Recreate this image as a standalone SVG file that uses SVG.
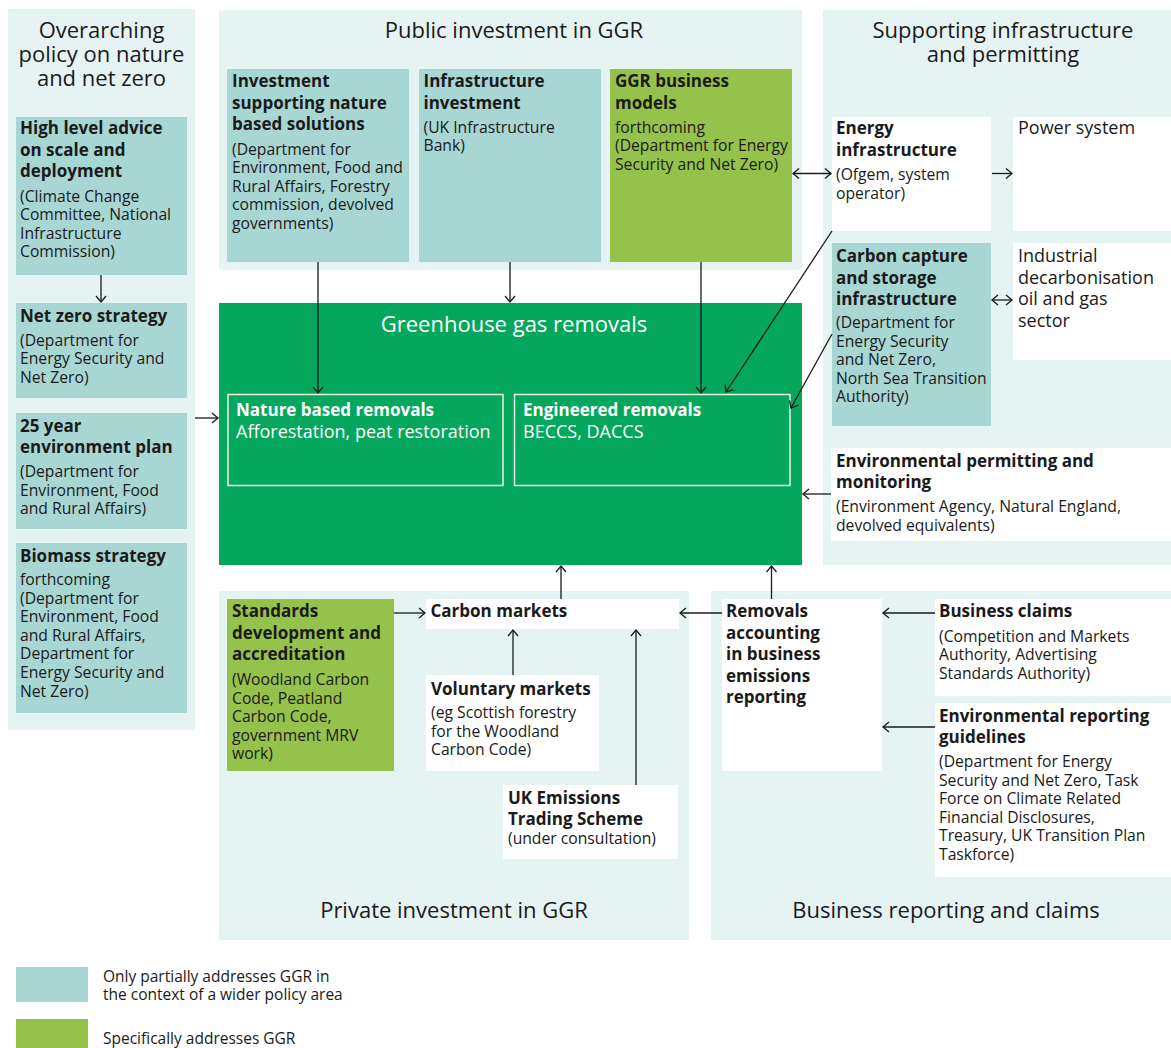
<svg xmlns="http://www.w3.org/2000/svg" width="1171" height="1048" viewBox="0 0 1171 1048">
  <defs>
    <style>
      .panel { fill: #e6f3f3; }
      .teal { fill: #a8d6d3; }
      .lime { fill: #95c24b; }
      .white { fill: #ffffff; }
      .ggr { fill: #04a75c; }
      .inner { fill: none; stroke: #e4f5ea; stroke-width: 1.5; }
      text { font-family: "Open Sans", "Noto Sans", sans-serif; fill: #1a1a1a; }
      .title { font-size: 22px; text-anchor: middle; }
      .h { font-size: 17px; font-weight: 700; }
      .b { font-size: 15.7px; }
      .lg { font-size: 18px; }
      .lgd { font-size: 15.5px; }
      .w { fill: #ffffff; }
      .conn line { stroke: #1a1a1a; stroke-width: 1.3; fill: none; }
    </style>
    <marker id="arr" viewBox="-8 -6 10 12" markerWidth="10" markerHeight="12" refX="0" refY="0" orient="auto-start-reverse" markerUnits="userSpaceOnUse">
      <path d="M-6,-5 L0,0 L-6,5" fill="none" stroke="#1a1a1a" stroke-width="1.3"/>
    </marker>
  </defs>

  <rect width="1171" height="1048" fill="#ffffff"/>

  <!-- Section panels -->
  <g id="panel-overarching">
    <rect class="panel" x="8" y="9" width="187" height="721"/>
    <text class="title"><tspan x="101.5" y="38">Overarching</tspan><tspan x="101.5" y="62">policy on nature</tspan><tspan x="101.5" y="86">and net zero</tspan></text>
  </g>
  <g id="panel-public">
    <rect class="panel" x="219" y="10" width="583" height="260"/>
    <text class="title" x="514" y="38">Public investment in GGR</text>
  </g>
  <g id="panel-supporting">
    <rect class="panel" x="823" y="10" width="348" height="555"/>
    <text class="title"><tspan x="1003" y="38">Supporting infrastructure</tspan><tspan x="1003" y="62">and permitting</tspan></text>
  </g>
  <g id="panel-private">
    <rect class="panel" x="219" y="591" width="470" height="349"/>
    <text class="title" x="454" y="918">Private investment in GGR</text>
  </g>
  <g id="panel-business">
    <rect class="panel" x="711" y="591" width="460" height="349"/>
    <text class="title" x="946" y="918">Business reporting and claims</text>
  </g>

  <!-- Overarching policy nodes -->
  <g id="node-high-level-advice">
    <rect class="teal" x="16" y="117" width="171" height="158"/>
    <text class="h"><tspan x="20" y="134">High level advice</tspan><tspan x="20" y="155.5">on scale and</tspan><tspan x="20" y="177">deployment</tspan></text>
    <text class="b"><tspan x="20" y="201.5">(Climate Change</tspan><tspan x="20" y="220.1">Committee, National</tspan><tspan x="20" y="238.7">Infrastructure</tspan><tspan x="20" y="257.3">Commission)</tspan></text>
  </g>
  <g id="node-net-zero-strategy">
    <rect class="teal" x="16" y="303" width="171" height="95"/>
    <text class="h" x="20" y="322">Net zero strategy</text>
    <text class="b"><tspan x="20" y="345.5">(Department for</tspan><tspan x="20" y="364.1">Energy Security and</tspan><tspan x="20" y="382.7">Net Zero)</tspan></text>
  </g>
  <g id="node-25-year-plan">
    <rect class="teal" x="16" y="413" width="171" height="116"/>
    <text class="h"><tspan x="20" y="432">25 year</tspan><tspan x="20" y="453">environment plan</tspan></text>
    <text class="b"><tspan x="20" y="477">(Department for</tspan><tspan x="20" y="495.6">Environment, Food</tspan><tspan x="20" y="514.2">and Rural Affairs)</tspan></text>
  </g>
  <g id="node-biomass-strategy">
    <rect class="teal" x="16" y="543" width="171" height="170"/>
    <text class="h" x="20" y="561.5">Biomass strategy</text>
    <text class="b"><tspan x="20" y="585">forthcoming</tspan><tspan x="20" y="603.6">(Department for</tspan><tspan x="20" y="622.2">Environment, Food</tspan><tspan x="20" y="640.8">and Rural Affairs,</tspan><tspan x="20" y="659.4">Department for</tspan><tspan x="20" y="678">Energy Security and</tspan><tspan x="20" y="696.6">Net Zero)</tspan></text>
  </g>

  <!-- Public investment nodes -->
  <g id="node-nature-investment">
    <rect class="teal" x="227" y="69" width="182" height="193"/>
    <text class="h"><tspan x="232" y="87">Investment</tspan><tspan x="232" y="108.5">supporting nature</tspan><tspan x="232" y="130">based solutions</tspan></text>
    <text class="b"><tspan x="232" y="154.5">(Department for</tspan><tspan x="232" y="173.1">Environment, Food and</tspan><tspan x="232" y="191.7">Rural Affairs, Forestry</tspan><tspan x="232" y="210.3">commission, devolved</tspan><tspan x="232" y="228.9">governments)</tspan></text>
  </g>
  <g id="node-infrastructure-investment">
    <rect class="teal" x="419" y="69" width="182" height="193"/>
    <text class="h"><tspan x="423.5" y="87">Infrastructure</tspan><tspan x="423.5" y="108.5">investment</tspan></text>
    <text class="b"><tspan x="423.5" y="132.5">(UK Infrastructure</tspan><tspan x="423.5" y="151.1">Bank)</tspan></text>
  </g>
  <g id="node-ggr-business-models">
    <rect class="lime" x="610" y="69" width="182" height="193"/>
    <text class="h"><tspan x="615" y="87">GGR business</tspan><tspan x="615" y="108.5">models</tspan></text>
    <text class="b"><tspan x="615" y="132.5">forthcoming</tspan><tspan x="615" y="151.1">(Department for Energy</tspan><tspan x="615" y="169.7">Security and Net Zero)</tspan></text>
  </g>

  <!-- Greenhouse gas removals -->
  <g id="node-ggr">
    <rect class="ggr" x="219" y="303" width="583" height="262"/>
    <text class="title w" x="514" y="332">Greenhouse gas removals</text>
  </g>
  <g id="node-nature-removals">
    <rect class="inner" x="228" y="394.5" width="275" height="91"/>
    <text class="h w" x="236" y="415.5">Nature based removals</text>
    <text class="lg w" x="236" y="437.5">Afforestation, peat restoration</text>
  </g>
  <g id="node-engineered-removals">
    <rect class="inner" x="514.5" y="394.5" width="275.5" height="91"/>
    <text class="h w" x="523" y="415.5">Engineered removals</text>
    <text class="lg w" x="523" y="437.5">BECCS, DACCS</text>
  </g>

  <!-- Supporting infrastructure nodes -->
  <g id="node-energy-infrastructure">
    <rect class="white" x="832" y="117" width="159" height="114"/>
    <text class="h"><tspan x="836" y="134">Energy</tspan><tspan x="836" y="155.5">infrastructure</tspan></text>
    <text class="b"><tspan x="836" y="180">(Ofgem, system</tspan><tspan x="836" y="198.6">operator)</tspan></text>
  </g>
  <g id="node-power-system">
    <rect class="white" x="1013" y="117" width="158" height="114"/>
    <text class="lg" x="1018" y="134">Power system</text>
  </g>
  <g id="node-ccs-infrastructure">
    <rect class="teal" x="832" y="243" width="159" height="183"/>
    <text class="h"><tspan x="836" y="262">Carbon capture</tspan><tspan x="836" y="283.5">and storage</tspan><tspan x="836" y="305">infrastructure</tspan></text>
    <text class="b"><tspan x="836" y="328">(Department for</tspan><tspan x="836" y="346.6">Energy Security</tspan><tspan x="836" y="365.2">and Net Zero,</tspan><tspan x="836" y="383.8">North Sea Transition</tspan><tspan x="836" y="402.4">Authority)</tspan></text>
  </g>
  <g id="node-industrial">
    <rect class="white" x="1013" y="243" width="158" height="117"/>
    <text class="lg"><tspan x="1018" y="262">Industrial</tspan><tspan x="1018" y="283.5">decarbonisation</tspan><tspan x="1018" y="305">oil and gas</tspan><tspan x="1018" y="326.5">sector</tspan></text>
  </g>
  <g id="node-environmental-permitting">
    <rect class="white" x="831" y="448" width="340" height="93"/>
    <text class="h"><tspan x="836" y="466.5">Environmental permitting and</tspan><tspan x="836" y="488">monitoring</tspan></text>
    <text class="b"><tspan x="836" y="512">(Environment Agency, Natural England,</tspan><tspan x="836" y="530.6">devolved equivalents)</tspan></text>
  </g>

  <!-- Private investment nodes -->
  <g id="node-standards">
    <rect class="lime" x="227" y="599" width="167" height="172"/>
    <text class="h"><tspan x="232" y="617">Standards</tspan><tspan x="232" y="638.5">development and</tspan><tspan x="232" y="660">accreditation</tspan></text>
    <text class="b"><tspan x="232" y="685">(Woodland Carbon</tspan><tspan x="232" y="703.6">Code, Peatland</tspan><tspan x="232" y="722.2">Carbon Code,</tspan><tspan x="232" y="740.8">government MRV</tspan><tspan x="232" y="759.4">work)</tspan></text>
  </g>
  <g id="node-carbon-markets">
    <rect class="white" x="426" y="599" width="253" height="30"/>
    <text class="h" x="430.5" y="617">Carbon markets</text>
  </g>
  <g id="node-voluntary-markets">
    <rect class="white" x="426" y="675" width="173" height="96"/>
    <text class="h" x="431" y="694.5">Voluntary markets</text>
    <text class="b"><tspan x="431" y="718">(eg Scottish forestry</tspan><tspan x="431" y="736.6">for the Woodland</tspan><tspan x="431" y="755.2">Carbon Code)</tspan></text>
  </g>
  <g id="node-uk-ets">
    <rect class="white" x="503" y="785" width="175" height="74"/>
    <text class="h"><tspan x="508" y="803.5">UK Emissions</tspan><tspan x="508" y="825">Trading Scheme</tspan></text>
    <text class="b" x="508" y="844">(under consultation)</text>
  </g>

  <!-- Business reporting nodes -->
  <g id="node-removals-accounting">
    <rect class="white" x="722" y="599" width="160" height="172"/>
    <text class="h"><tspan x="726" y="617">Removals</tspan><tspan x="726" y="638.5">accounting</tspan><tspan x="726" y="660">in business</tspan><tspan x="726" y="681.5">emissions</tspan><tspan x="726" y="703">reporting</tspan></text>
  </g>
  <g id="node-business-claims">
    <rect class="white" x="935" y="599" width="236" height="97"/>
    <text class="h" x="939" y="617">Business claims</text>
    <text class="b"><tspan x="939" y="641.5">(Competition and Markets</tspan><tspan x="939" y="660.1">Authority, Advertising</tspan><tspan x="939" y="678.7">Standards Authority)</tspan></text>
  </g>
  <g id="node-environmental-reporting">
    <rect class="white" x="935" y="703" width="236" height="174"/>
    <text class="h"><tspan x="939" y="721.5">Environmental reporting</tspan><tspan x="939" y="743">guidelines</tspan></text>
    <text class="b"><tspan x="939" y="767">(Department for Energy</tspan><tspan x="939" y="785.6">Security and Net Zero, Task</tspan><tspan x="939" y="804.2">Force on Climate Related</tspan><tspan x="939" y="822.8">Financial Disclosures,</tspan><tspan x="939" y="841.4">Treasury, UK Transition Plan</tspan><tspan x="939" y="860">Taskforce)</tspan></text>
  </g>

  <!-- Connectors -->
  <g id="connectors" class="conn">
    <line x1="101" y1="275" x2="101" y2="302" marker-end="url(#arr)"/>
    <line x1="195" y1="418" x2="218" y2="418" marker-end="url(#arr)"/>
    <line x1="318" y1="262" x2="318" y2="393" marker-end="url(#arr)"/>
    <line x1="510" y1="262" x2="510" y2="302" marker-end="url(#arr)"/>
    <line x1="701" y1="262" x2="701" y2="393" marker-end="url(#arr)"/>
    <line x1="832" y1="231" x2="726" y2="392" marker-end="url(#arr)"/>
    <line x1="832" y1="334" x2="791" y2="408" marker-end="url(#arr)"/>
    <line x1="793" y1="173.5" x2="831" y2="173.5" marker-start="url(#arr)" marker-end="url(#arr)"/>
    <line x1="992" y1="173.5" x2="1012" y2="173.5" marker-end="url(#arr)"/>
    <line x1="992" y1="300" x2="1012" y2="300" marker-start="url(#arr)" marker-end="url(#arr)"/>
    <line x1="831" y1="494" x2="803" y2="494" marker-end="url(#arr)"/>
    <line x1="561" y1="599" x2="561" y2="566" marker-end="url(#arr)"/>
    <line x1="771.5" y1="599" x2="771.5" y2="566" marker-end="url(#arr)"/>
    <line x1="394" y1="613" x2="425" y2="613" marker-end="url(#arr)"/>
    <line x1="513" y1="675" x2="513" y2="630" marker-end="url(#arr)"/>
    <line x1="636" y1="785" x2="636" y2="630" marker-end="url(#arr)"/>
    <line x1="722" y1="613" x2="680" y2="613" marker-end="url(#arr)"/>
    <line x1="935" y1="613" x2="883" y2="613" marker-end="url(#arr)"/>
    <line x1="935" y1="727" x2="883" y2="727" marker-end="url(#arr)"/>
  </g>

  <!-- Legend -->
  <g id="legend">
    <rect class="teal" x="16" y="967" width="72" height="35"/>
    <text class="lgd"><tspan x="103" y="981.5">Only partially addresses GGR in</tspan><tspan x="103" y="1000">the context of a wider policy area</tspan></text>
    <rect class="lime" x="16" y="1019" width="72" height="29"/>
    <text class="lgd" x="103" y="1044">Specifically addresses GGR</text>
  </g>
</svg>
